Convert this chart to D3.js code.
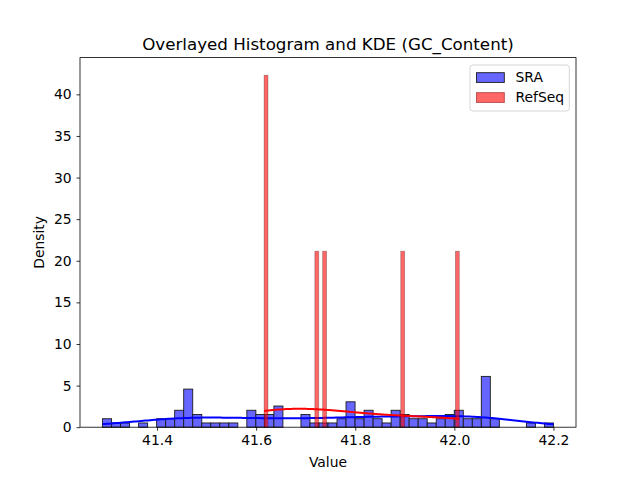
<!DOCTYPE html>
<html>
<head>
<meta charset="utf-8">
<script src="https://cdn.jsdelivr.net/npm/d3@7"></script>
<style>
  body { margin: 0; background: #fff; }
  svg { font-family: "DejaVu Sans", sans-serif; }
</style>
</head>
<body>
<svg id="chart" width="640" height="480"></svg>
<script>
// SRA histogram: 50 bins between sraMin and sraMax, counts per bin
var sraMin = 41.29, sraMax = 42.20;
var sraCounts = [2,1,1,0,1,0,2,2,4,9,3,1,1,
                 1,1,0,4,3,3,5,0,0,3,1,1,1,2,
                 6,2,4,2,1,4,3,2,2,1,2,3,4,
                 2,2,12,2,0,0,0,1,0,1];
// RefSeq raw values (6 genomes)
var refValues = [41.616, 41.616, 41.720, 41.737, 41.895, 42.010];
var nBins = 50;
var xTicks = [41.4, 41.6, 41.8, 42.0, 42.2];
var yTicks = [0, 5, 10, 15, 20, 25, 30, 35, 40];
var seriesNames = ["SRA", "RefSeq"];
var seriesColors = ["#0000ff", "#ff0000"];

var W = 640, H = 480;
var m = {left: 80, right: 576, top: 57.6, bottom: 427.2};
var svg = d3.select("#chart");

// build bins
function makeBins(lo, hi, counts) {
  var w = (hi - lo) / nBins;
  var n = d3.sum(counts);
  return counts.map(function (c, i) {
    return {x0: lo + i * w, x1: lo + (i + 1) * w, density: c / (n * w)};
  });
}
var sraBins = makeBins(sraMin, sraMax, sraCounts);

var refMin = d3.min(refValues), refMax = d3.max(refValues);
var refCounts = d3.range(nBins).map(function () { return 0; });
refValues.forEach(function (v) {
  var i = Math.min(nBins - 1, Math.floor((v - refMin) / ((refMax - refMin) / nBins)));
  refCounts[i]++;
});
var refBins = makeBins(refMin, refMax, refCounts);

// samples for KDE (SRA from bin centres)
var sraSamples = [];
sraBins.forEach(function (b, i) {
  for (var k = 0; k < sraCounts[i]; k++) sraSamples.push((b.x0 + b.x1) / 2);
});

function kde(samples, lo, hi) {
  var n = samples.length;
  var sd = d3.deviation(samples);
  var bw = sd * Math.pow(n, -0.2);
  return d3.range(200).map(function (i) {
    var x = lo + (hi - lo) * i / 199;
    var s = 0;
    samples.forEach(function (v) {
      var z = (x - v) / bw;
      s += Math.exp(-0.5 * z * z);
    });
    return {x: x, y: s / (n * bw * Math.sqrt(2 * Math.PI))};
  });
}
var sraKde = kde(sraSamples, sraMin, sraMax);
var refKde = kde(refValues, refMin, refMax);

// scales with matplotlib style margins
var dataLo = Math.min(sraMin, refMin), dataHi = Math.max(sraMax, refMax);
var pad = (dataHi - dataLo) * 0.05;
var x = d3.scaleLinear().domain([dataLo - pad, dataHi + pad]).range([m.left, m.right]);
var yMax = d3.max(sraBins.concat(refBins), function (d) { return d.density; });
var y = d3.scaleLinear().domain([0, yMax * 1.05]).range([m.bottom, m.top]);

svg.append("rect").attr("width", W).attr("height", H).attr("fill", "#fff");

// SRA bars + line
svg.append("g").selectAll("rect").data(sraBins.filter(function (d) { return d.density > 0; }))
  .enter().append("rect")
  .attr("x", function (d) { return x(d.x0); })
  .attr("width", function (d) { return x(d.x1) - x(d.x0); })
  .attr("y", function (d) { return y(d.density); })
  .attr("height", function (d) { return y(0) - y(d.density); })
  .attr("fill", "#6666ff")
  .attr("stroke", "#1a1a1a").attr("stroke-width", 0.9);

var line = d3.line().x(function (d) { return x(d.x); }).y(function (d) { return y(d.y); });

svg.append("path").datum(sraKde).attr("d", line)
  .attr("fill", "none").attr("stroke", seriesColors[0]).attr("stroke-width", 2);

// RefSeq bars + line
svg.append("g").selectAll("rect").data(refBins.filter(function (d) { return d.density > 0; }))
  .enter().append("rect")
  .attr("x", function (d) { return x(d.x0); })
  .attr("width", function (d) { return x(d.x1) - x(d.x0); })
  .attr("y", function (d) { return y(d.density); })
  .attr("height", function (d) { return y(0) - y(d.density); })
  .attr("fill", "#ff0000").attr("fill-opacity", 0.6)
  .attr("stroke", "#000").attr("stroke-opacity", 0.3).attr("stroke-width", 0.8);

svg.append("path").datum(refKde).attr("d", line)
  .attr("fill", "none").attr("stroke", seriesColors[1]).attr("stroke-width", 2);

// axes
var xAxis = svg.append("g").attr("transform", "translate(0," + m.bottom + ")")
  .call(d3.axisBottom(x).tickValues(xTicks).tickFormat(d3.format(".1f")).tickSizeOuter(0).tickSize(3.5).tickPadding(4.9));
var yAxis = svg.append("g").attr("transform", "translate(" + m.left + ",0)")
  .call(d3.axisLeft(y).tickValues(yTicks).tickFormat(d3.format("d")).tickSizeOuter(0).tickSize(3.5).tickPadding(4.9));
[xAxis, yAxis].forEach(function (g) {
  g.select(".domain").remove();
  g.selectAll("text").attr("font-size", "13.9px").attr("fill", "#000").attr("font-family", "DejaVu Sans");
  g.selectAll("line").attr("stroke", "#000").attr("stroke-width", 0.8);
});

svg.append("rect").attr("x", m.left).attr("y", m.top)
  .attr("width", m.right - m.left).attr("height", m.bottom - m.top)
  .attr("fill", "none").attr("stroke", "#000").attr("stroke-width", 0.8);

// labels
svg.append("text").attr("x", (m.left + m.right) / 2).attr("y", 49.5)
  .attr("text-anchor", "middle").attr("font-size", "16.7px").text("Overlayed Histogram and KDE (GC_Content)");
svg.append("text").attr("x", (m.left + m.right) / 2).attr("y", 467)
  .attr("text-anchor", "middle").attr("font-size", "13.9px").text("Value");
svg.append("text").attr("transform", "translate(44," + ((m.top + m.bottom) / 2) + ") rotate(-90)")
  .attr("text-anchor", "middle").attr("font-size", "13.9px").text("Density");

// legend
var lg = svg.append("g");
lg.append("rect").attr("x", 470).attr("y", 65).attr("width", 99.3).attr("height", 46)
  .attr("rx", 2.8).attr("fill", "#fff").attr("fill-opacity", 0.8)
  .attr("stroke", "#cccccc").attr("stroke-width", 0.8);
var legendFill = ["#6666ff", "#ff6666"];
var legendStroke = ["#1a1a1a", "#b34747"];
seriesNames.forEach(function (name, i) {
  var yy = 72.7 + i * 20;
  lg.append("rect").attr("x", 476.5).attr("y", yy).attr("width", 27.8).attr("height", 9.7)
    .attr("fill", legendFill[i]).attr("stroke", legendStroke[i]).attr("stroke-width", 0.9);
  lg.append("text").attr("x", 515.5).attr("y", yy + 9.5).attr("font-size", "13.9px").text(name);
});
</script>
</body>
</html>
